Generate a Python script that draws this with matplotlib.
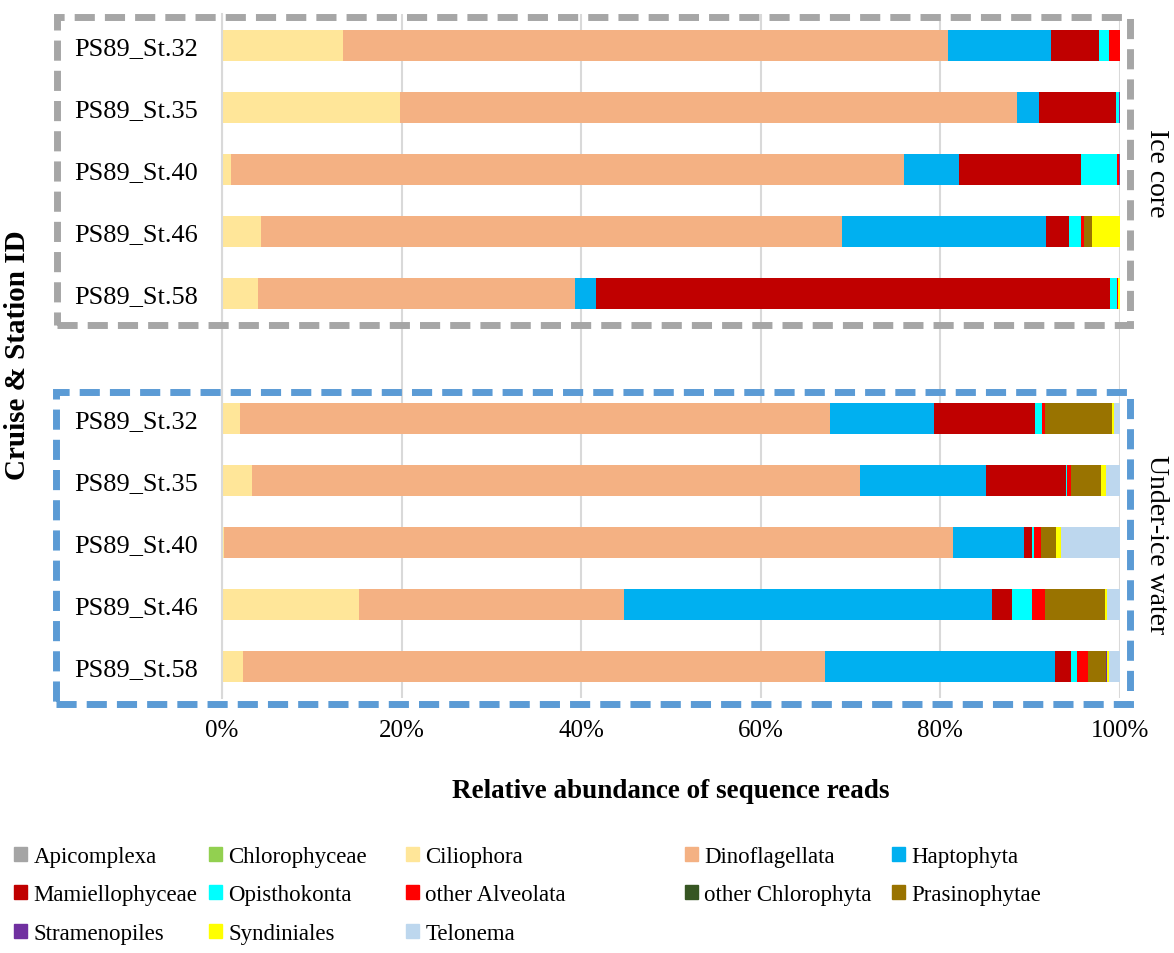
import numpy as np
import matplotlib.pyplot as plt
from matplotlib.patches import Rectangle, Patch

plt.rcParams['font.family'] = ['Liberation Serif', 'DejaVu Serif']

stations = ['PS89_St.32', 'PS89_St.35', 'PS89_St.40', 'PS89_St.46', 'PS89_St.58']
groups = ['Ice core', 'Under-ice water']

taxa = ['Apicomplexa', 'Chlorophyceae', 'Ciliophora', 'Dinoflagellata', 'Haptophyta',
        'Mamiellophyceae', 'Opisthokonta', 'other Alveolata', 'other Chlorophyta',
        'Prasinophytae', 'Stramenopiles', 'Syndiniales', 'Telonema']
colors = ['#a5a5a5', '#92d050', '#ffe699', '#f4b183', '#00b0f0',
          '#c00000', '#00ffff', '#ff0000', '#375623',
          '#997300', '#7030a0', '#ffff00', '#bdd7ee']

# relative abundance (%), ice core St.32..58 then under-ice water St.32..58
apicomplexa = [0, 0, 0, 0, 0, 0, 0, 0, 0, 0]
chlorophyceae = [0, 0, 0, 0, 0, 0, 0, 0, 0, 0]
ciliophora = [13.5, 19.8, 1.0, 4.3, 4.0, 2.0, 3.3, 0.2, 15.3, 2.3]
dinoflagellata = [67.3, 68.7, 75.0, 64.7, 35.3, 65.7, 67.7, 81.2, 29.5, 64.8]
haptophyta = [11.5, 2.5, 6.1, 22.8, 2.3, 11.6, 14.1, 7.9, 40.9, 25.7]
mamiellophyceae = [5.4, 8.6, 13.6, 2.5, 57.3, 11.2, 8.9, 0.9, 2.3, 1.7]
opisthokonta = [1.1, 0.3, 4.0, 1.4, 0.8, 0.8, 0.1, 0.2, 2.2, 0.7]
other_alveolata = [1.2, 0.0, 0.2, 0.3, 0.1, 0.3, 0.4, 0.8, 1.4, 1.2]
other_chlorophyta = [0, 0, 0, 0, 0, 0, 0, 0, 0, 0]
prasinophytae = [0, 0, 0, 0.9, 0, 7.5, 3.4, 1.7, 6.7, 2.0]
stramenopiles = [0, 0.1, 0.1, 0, 0, 0, 0, 0, 0, 0.1]
syndiniales = [0, 0, 0, 3.1, 0.2, 0.2, 0.5, 0.5, 0.2, 0.3]
telonema = [0, 0, 0, 0, 0, 0.7, 1.6, 6.6, 1.5, 1.2]

series = [apicomplexa, chlorophyceae, ciliophora, dinoflagellata, haptophyta,
          mamiellophyceae, opisthokonta, other_alveolata, other_chlorophyta,
          prasinophytae, stramenopiles, syndiniales, telonema]

W, H = 1174, 954
fig = plt.figure(figsize=(W / 100, H / 100), dpi=100)
ax = fig.add_axes([222 / W, 1 - 699 / H, (1120 - 222) / W, (699 - 15) / H])

ypos = [0, 1, 2, 3, 4, 6, 7, 8, 9, 10]
left = np.zeros(len(ypos))
for name, vals, c in zip(taxa, series, colors):
    vals = np.array(vals, dtype=float)
    ax.barh(ypos, vals, left=left, height=0.5, color=c, label=name)
    left += vals

ax.set_xlim(0, 100)
ax.set_ylim(10.5, -0.5)
ax.set_yticks(ypos)
ax.set_yticklabels(stations + stations, fontsize=19)
ax.set_xticks(range(0, 101, 20))
ax.set_xticklabels([f'{v}%' for v in range(0, 101, 20)], fontsize=18)
ax.tick_params(axis='y', length=0, pad=17)
ax.tick_params(axis='x', length=0, pad=15)
ax.xaxis.grid(True, color='#d9d9d9', lw=1.5)
ax.set_axisbelow(True)
for s in ['top', 'right', 'bottom']:
    ax.spines[s].set_visible(False)
ax.spines['left'].set_color('#d9d9d9')
ax.spines['left'].set_linewidth(1.5)

ax.set_xlabel('Relative abundance of sequence reads', fontsize=19.5, fontweight='bold', labelpad=27)
fig.text(18 / W, 1 - 355 / H, 'Cruise & Station ID', rotation=90, fontsize=21,
         fontweight='bold', ha='center', va='center')

# dashed group boxes
boxes = [(57, 18, 1130, 326, '#a6a6a6'), (56, 393, 1130, 705, '#5b9bd5')]
for x0, y0, x1, y1, c in boxes:
    fig.patches.append(Rectangle((x0 / W, 1 - y1 / H), (x1 - x0) / W, (y1 - y0) / H,
                                 transform=fig.transFigure, fill=False, edgecolor=c,
                                 lw=5, linestyle=(0, (2.9, 1.45))))
fig.text(1157 / W, 1 - 173 / H, groups[0], rotation=270, fontsize=20, ha='center', va='center')
fig.text(1157 / W, 1 - 545 / H, groups[1], rotation=270, fontsize=20, ha='center', va='center')

# legend, one column at a time to match the spacing
col_x = [14, 209, 406, 685, 892]
handles = [Patch(color=c, label=t) for t, c in zip(taxa, colors)]
for i, x in enumerate(col_x):
    fig.legend(handles=handles[i::5], loc='upper left', bbox_to_anchor=(x / W, 1 - 847 / H),
               frameon=False, fontsize=16.5, handlelength=0.55, handleheight=0.55,
               handletextpad=0.3, labelspacing=0.76, borderaxespad=0, borderpad=0)

fig.savefig('out.png', dpi=100)
